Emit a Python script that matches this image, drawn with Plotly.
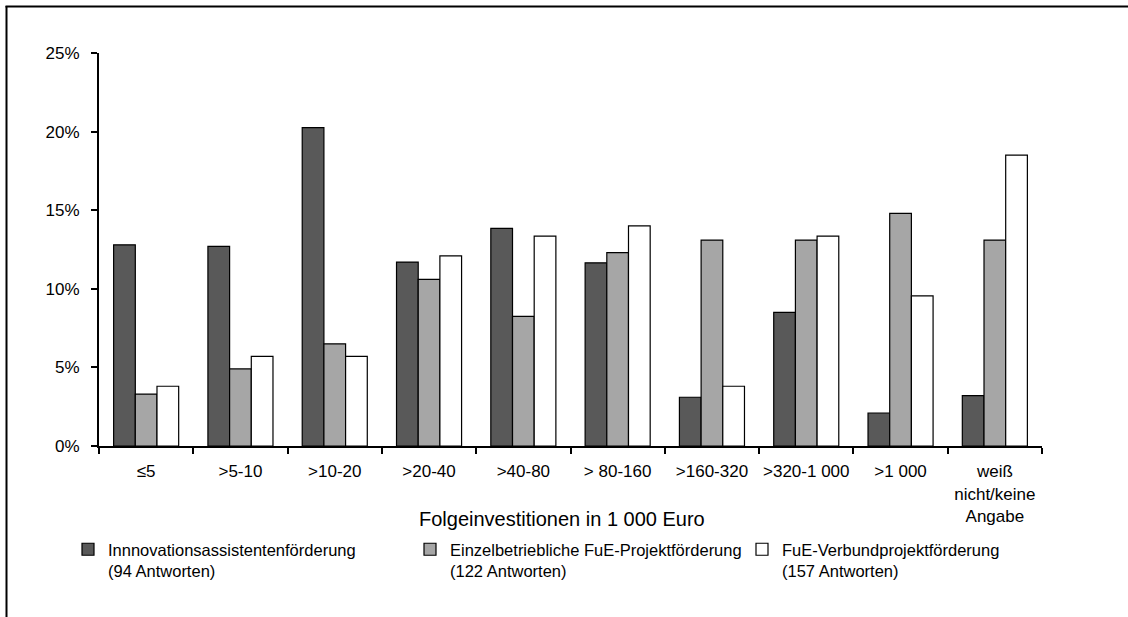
import plotly.graph_objects as go

categories = ["≤5", ">5-10", ">10-20", ">20-40", ">40-80", "> 80-160",
              ">160-320", ">320-1 000", ">1 000", "weiß<br>nicht/keine<br>Angabe"]

innovation = [12.8, 12.7, 20.25, 11.7, 13.85, 11.65, 3.1, 8.5, 2.1, 3.2]
einzel = [3.3, 4.9, 6.5, 10.6, 8.25, 12.3, 13.1, 13.1, 14.8, 13.1]
verbund = [3.8, 5.7, 5.7, 12.1, 13.35, 14.0, 3.8, 13.35, 9.55, 18.5]

series_names = ["Innnovationsassistentenförderung<br>(94 Antworten)",
                "Einzelbetriebliche FuE-Projektförderung<br>(122 Antworten)",
                "FuE-Verbundprojektförderung<br>(157 Antworten)"]
series_colors = ["#595959", "#a6a6a6", "#ffffff"]

y_ticks = [0, 5, 10, 15, 20, 25]
y_tick_labels = ["0%", "5%", "10%", "15%", "20%", "25%"]

FONT = "Liberation Sans, Arial, sans-serif"

fig = go.Figure()
legends = ["legend", "legend2", "legend3"]
for vals, name, col, lg in zip([innovation, einzel, verbund], series_names, series_colors, legends):
    fig.add_trace(go.Bar(
        x=categories, y=vals, name=name, legend=lg,
        marker=dict(color=col, line=dict(color="#000000", width=1.2)),
        hoverinfo="skip",
    ))

L, R, T, B = 99, 86, 53, 171
W, H = 1128, 617
pw, ph = W - L - R, H - T - B

def px_x(p):
    return (p - L) / pw

def px_y(p):
    return (H - B - p) / ph

leg_common = dict(orientation="v", yanchor="top", xanchor="left",
                  font=dict(family=FONT, size=16.5, color="#000000"),
                  bgcolor="rgba(0,0,0,0)", itemwidth=30, valign="top",
                  tracegroupgap=0, itemclick=False, itemdoubleclick=False)

fig.update_layout(
    width=W, height=H,
    margin=dict(l=L, r=R, t=T, b=B),
    paper_bgcolor="white", plot_bgcolor="white",
    barmode="group", bargap=0.31, bargroupgap=0,
    font=dict(family=FONT, size=17, color="#000000"),
    showlegend=True,
    legend=dict(x=px_x(68), y=px_y(532), **leg_common),
    legend2=dict(x=px_x(410), y=px_y(532), **leg_common),
    legend3=dict(x=px_x(742), y=px_y(532), **leg_common),
    xaxis=dict(
        type="category", showline=True, linecolor="#000000", linewidth=2,
        ticks="outside", tickson="boundaries", ticklen=6, tickcolor="#000000", tickwidth=1.5,
        showgrid=False, zeroline=False, tickangle=0,
        tickfont=dict(family=FONT, size=17, color="#000000"),
        ticklabelstandoff=9,
    ),
    yaxis=dict(
        range=[0, 25], tickvals=y_ticks, ticktext=y_tick_labels,
        showline=True, linecolor="#000000", linewidth=2,
        ticks="outside", ticklen=6, tickcolor="#000000", tickwidth=1.5,
        showgrid=False, zeroline=False,
        tickfont=dict(family=FONT, size=17, color="#000000"),
        ticklabelstandoff=8,
    ),
    annotations=[dict(
        text="Folgeinvestitionen in 1 000 Euro", xref="paper", yref="paper",
        x=px_x(562), y=px_y(519), xanchor="center", yanchor="middle",
        showarrow=False, font=dict(family=FONT, size=20, color="#000000"),
    )],
    shapes=[
        dict(type="line", xref="paper", yref="paper",
             x0=px_x(6.5), x1=px_x(6.5), y0=px_y(6), y1=px_y(H + 2),
             line=dict(color="#000000", width=2)),
        dict(type="line", xref="paper", yref="paper",
             x0=px_x(5.5), x1=px_x(W + 2), y0=px_y(6.5), y1=px_y(6.5),
             line=dict(color="#000000", width=2)),
    ],
)

fig.write_html("out.html")
